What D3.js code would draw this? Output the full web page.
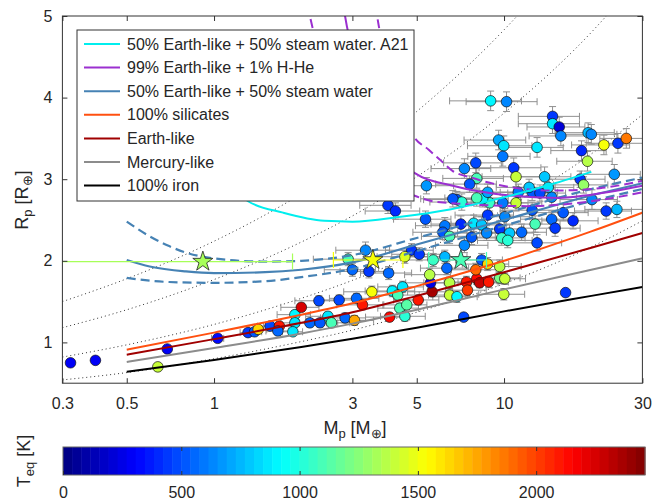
<!DOCTYPE html>
<html>
<head>
<meta charset="utf-8">
<script src="https://cdn.jsdelivr.net/npm/d3@7"></script>
<style>
  body { margin: 0; background: #fff; }
  svg { display: block; }
  text { font-family: "Liberation Sans", Arial, Helvetica, sans-serif; fill: #262626; }
</style>
</head>
<body>
<svg id="chart" width="668" height="504"></svg>
<script>
// ---------- axis ticks ----------
const massTicks = [0.3, 0.5, 1, 3, 5, 10, 30];
const radiusTicks = [1, 2, 3, 4, 5];
const teqTicks = [0, 500, 1000, 1500, 2000];
const teqMax = 2460;

// ---------- composition models: [mass (M⊕), radius (R⊕)] ----------
const ironCurve     = [[0.5,0.64],[1,0.785],[2,0.945],[3,1.045],[5,1.18],[10,1.38],[20,1.57],[30,1.68]];
const mercuryCurve  = [[0.5,0.76],[1,0.93],[2,1.11],[3,1.23],[5,1.40],[10,1.65],[20,1.89],[30,2.03]];
const earthCurve    = [[0.5,0.85],[1,1.04],[2,1.24],[3,1.37],[5,1.57],[10,1.86],[20,2.16],[30,2.34]];
const silicateCurve = [[0.5,0.91],[1,1.12],[2,1.34],[3,1.48],[5,1.69],[10,2.00],[20,2.36],[30,2.59]];
const steamCurve    = [[0.5,2.01],[0.6,1.93],[0.8,1.87],[1,1.85],[1.5,1.86],[2,1.89],[3,1.98],[5,2.20],[10,2.50],[20,2.80],[30,2.95]];
const steamUpper    = [[0.5,2.48],[0.6,2.30],[0.7,2.18],[0.8,2.10],[1,2.03],[1.5,1.99],[2,2.00],[3,2.07],[5,2.28],[10,2.58],[20,2.88],[30,3.02]];
const steamLower    = [[0.5,1.79],[0.7,1.74],[1,1.73],[1.5,1.75],[2,1.80],[3,1.90],[5,2.12],[10,2.43],[20,2.73],[30,2.88]];
const steamA21      = [[1.1,2.95],[1.31,2.73],[1.73,2.59],[2.4,2.49],[3,2.48],[4.4,2.54],[6.5,2.63],[9.3,2.75],[14,2.92],[20,3.09]];
const hheCurve      = [[2.75,5.3],[2.83,5.0],[3.1,4.4],[3.6,3.75],[4.2,3.35],[4.89,3.08],[6.66,2.92],[10.5,2.80],[15.5,2.77],[19,2.80],[30,2.92]];
const hheUpper      = [[3.55,5.3],[3.65,5.0],[3.9,4.5],[4.3,3.95],[4.89,3.52],[5.5,3.36],[6.0,3.24],[6.66,3.10],[7.7,3.02],[9.9,2.92],[14.7,2.86],[21.4,2.89],[30,2.98]];
const hheLower      = [[2.05,5.3],[2.14,5.0],[2.4,4.3],[3.0,3.5],[4.0,2.95],[4.89,2.80],[5.9,2.72],[12,2.67],[21,2.74],[30,2.84]];

// ---------- iso-density guides ----------
const isoDensityA = [[0.3,1.50],[0.5,1.78],[1,2.24],[2,2.82],[3,3.23],[5,3.83],[10,4.83],[12,5.13]];
const isoDensityB = [[0.3,1.18],[0.5,1.40],[1,1.77],[2,2.23],[3,2.55],[5,3.03],[10,3.81],[20,4.80],[25,5.18]];
const isoDensityC = [[0.3,0.82],[0.5,0.97],[1,1.22],[2,1.54],[3,1.76],[5,2.09],[10,2.63],[20,3.31],[30,3.79]];
const isoDensityD = [[0.3,0.54],[0.5,0.63],[1,0.80],[2,1.01],[3,1.15],[5,1.37],[10,1.72],[20,2.17],[30,2.49]];

// ---------- planets: [mass, radius, Teq (K), mass error, radius error] ----------
const planets = [
  [0.32,0.75,280,0,0],[0.39,0.78,280,0,0],[0.64,0.70,1400,0,0],[0.69,0.92,300,0,0],
  [1.03,1.05,340,0.05,0.02],[1.31,1.12,440,0.08,0.03],[1.38,1.13,500,0.08,0.03],[1.42,1.16,1650,0.1,0.04],
  [1.56,1.20,470,0.15,0.05],[1.68,1.20,2100,0.2,0.05],[1.66,1.14,550,0.15,0.04],[1.90,1.34,900,0.25,0.05],
  [1.90,1.24,850,0.2,0.05],[1.87,1.13,880,0.15,0.04],[2.00,1.43,2250,0.3,0.05],[2.14,1.24,560,0.3,0.05],
  [2.32,1.24,520,0.35,0.05],[2.30,1.51,480,0.4,0.06],[2.70,1.52,470,0.45,0.06],[2.47,1.32,850,0.4,0.05],
  [2.54,1.24,1100,0.4,0.06],[3.10,1.54,550,0.6,0.06],[3.50,1.62,1500,0.7,0.07],[3.25,1.46,2100,0.6,0.06],
  [2.83,1.30,560,0.5,0.06],[3.05,1.27,1750,0.5,0.06],[4.03,1.31,2150,0.7,0.05],[4.12,1.63,900,0.8,0.07],
  [4.47,1.68,870,0.8,0.07],[4.30,1.58,1100,0.8,0.07],[4.37,1.42,1080,0.7,0.06],[4.55,1.32,1020,0.8,0.06],
  [4.62,1.46,1120,0.8,0.06],[5.06,1.52,2100,0.9,0.06],[5.65,1.62,2350,1.0,0.06],[6.49,1.73,1350,1.2,0.07],
  [6.49,1.58,1400,1.0,0.06],[6.88,1.56,900,1.2,0.07],[7.42,1.74,2100,1.2,0.07],[7.48,1.64,2000,1.2,0.06],
  [8.05,1.78,2150,1.4,0.07],[8.24,1.73,2300,1.3,0.06],[7.99,1.89,1900,1.4,0.08],[8.37,2.01,500,1.5,0.08],
  [8.78,1.96,1650,1.6,0.08],[8.85,1.74,2100,1.5,0.07],[9.66,1.93,1350,1.8,0.08],[9.66,1.79,1200,1.7,0.07],
  [10.06,1.78,1400,1.8,0.07],[9.98,1.59,1400,1.8,0.07],[16.3,1.61,460,0,0],[7.26,1.31,480,0,0],
  [5.58,1.73,250,1.0,0.07],[5.54,1.83,1350,1.0,0.08],[5.70,2.01,1050,1.1,0.08],[6.25,2.05,750,1.2,0.08],
  [6.35,1.91,550,1.2,0.08],[4.80,2.13,460,0.9,0.08],[5.10,2.08,440,1.0,0.08],[4.55,2.05,1450,0.9,0.08],
  [4.00,1.85,550,0.8,0.08],[3.42,1.87,440,0.7,0.08],[3.00,1.89,550,0.6,0.08],[2.90,2.02,1100,0.7,0.08],
  [3.33,2.13,650,0.7,0.1],[3.98,2.68,460,0.8,0.1],[4.22,2.61,420,0.9,0.1],[5.36,2.51,500,1.2,0.1],
  [6.25,2.43,600,1.3,0.1],[6.15,2.35,520,1.3,0.09],[7.10,2.45,420,1.5,0.1],[6.49,2.30,1100,1.3,0.09],
  [7.73,2.29,500,1.6,0.09],[7.86,2.46,850,1.7,0.1],[8.37,2.44,800,1.8,0.1],[8.71,2.34,650,1.8,0.09],
  [7.30,2.19,650,1.5,0.09],[6.88,2.75,500,1.6,0.1],[7.15,2.72,1000,1.6,0.1],[8.78,2.56,460,2.0,0.1],
  [10.06,2.54,650,2.2,0.1],[10.45,2.34,800,2.2,0.1],[9.66,2.39,460,2.0,0.1],[9.82,2.28,1050,2.0,0.09],
  [10.3,2.25,1000,2.2,0.09],[11.5,2.35,550,2.5,0.1],[13.0,2.22,470,2.8,0.1],[12.5,2.62,500,2.8,0.1],
  [12.8,2.45,1100,2.8,0.1],[14.6,2.51,550,3.2,0.1],[15.0,2.40,460,3.3,0.1],[16.0,2.59,500,3.5,0.1],
  [17.3,2.49,420,3.8,0.1],[20.1,2.75,650,4.5,0.12],[22.5,2.61,460,5,0.1],[24.5,2.63,750,5.5,0.1],
  [11.0,2.71,1400,2.5,0.1],[14.6,2.78,650,3.2,0.1],[8.92,2.71,1050,2,0.1],[9.90,2.71,600,2.2,0.1],
  [8.44,2.76,900,1.9,0.1],[8.05,2.77,1100,1.8,0.1],[6.66,2.76,500,1.5,0.1],[8.99,3.96,900,2.5,0.12],
  [10.2,3.95,650,2.8,0.12],[14.7,3.77,460,3.5,0.12],[14.7,3.68,850,3.5,0.12],[15.5,3.64,200,3.5,0.12],
  [15.7,3.53,650,3.5,0.12],[9.58,3.48,700,2.3,0.12],[9.98,3.41,850,2.5,0.12],[9.90,3.28,600,2.4,0.12],
  [13.0,3.39,850,3.0,0.12],[10.8,3.14,440,2.6,0.12],[11.0,3.03,1400,2.6,0.12],[13.8,3.03,800,3.2,0.12],
  [14.2,2.90,850,3.2,0.1],[11.2,2.84,600,2.6,0.1],[12.5,2.84,500,2.8,0.1],[13.3,2.83,470,3.0,0.1],
  [18.5,3.35,420,4,0.12],[19.4,3.22,1350,4.2,0.12],[18.3,3.00,460,4,0.1],[18.8,2.93,1300,4,0.1],
  [19.5,3.57,750,4.5,0.12],[20.0,3.55,650,4.5,0.12],[22.1,3.42,1500,5,0.12],[24.7,3.44,460,5.5,0.12],
  [26.4,3.50,1850,5,0.12],[24.0,3.06,680,5.5,0.12],[7.99,3.20,470,1.8,0.12],[7.30,3.13,650,1.7,0.12],
  [8.05,3.01,1100,1.9,0.12],[7.61,2.94,520,1.8,0.1],[5.40,2.92,680,1.3,0.1],[12.2,2.90,800,2.8,0.1],
  [8.78,2.84,700,2.0,0.1]
];

// highlighted planets (stars): [mass, radius, Teq, mass error, radius error]
const highlighted = [
  [0.915,1.99,1330,0.95,0.03],
  [3.53,2.01,1500,0.95,0.05],
  [7.10,2.01,1100,1.60,0.04]
];

// ---------- legend ----------
const legendLabels = [
  "50% Earth-like + 50% steam water. A21",
  "99% Earth-like + 1% H-He",
  "50% Earth-like + 50% steam water",
  "100% silicates",
  "Earth-like",
  "Mercury-like",
  "100% iron"
];
const legendColors = ["#00eeee", "#9b30d0", "#4682b4", "#ff5010", "#a00000", "#8c8c8c", "#000000"];

// ---------- layout ----------
const svg = d3.select("#chart");
const pLeft = 62.4, pRight = 642.4, pTop = 16, pBottom = 383.2;

const x = d3.scaleLog().domain([0.3, 30]).range([pLeft, pRight]);
const y = d3.scaleLinear().domain([0.5, 5]).range([pBottom, pTop]);

// jet colour map with 64 discrete levels
function jet(t) {
  const c = v => Math.max(0, Math.min(1, v));
  const r = c(1.5 - Math.abs(4 * t - 3));
  const g = c(1.5 - Math.abs(4 * t - 2));
  const b = c(1.5 - Math.abs(4 * t - 1));
  return d3.rgb(r * 255, g * 255, b * 255).formatHex();
}
const nLevels = 64;
const teqColor = T => {
  const idx = Math.max(0, Math.min(nLevels - 1, Math.floor(T / teqMax * nLevels)));
  return jet((idx + 0.5) / nLevels);
};

svg.append("defs").append("clipPath").attr("id", "plotClip")
  .append("rect").attr("x", pLeft).attr("y", pTop)
  .attr("width", pRight - pLeft).attr("height", pBottom - pTop);

const gPlot = svg.append("g").attr("clip-path", "url(#plotClip)");

const line = d3.line()
  .x(d => x(d[0])).y(d => y(d[1]))
  .curve(d3.curveMonotoneX);

// iso-density guides
[isoDensityA, isoDensityB, isoDensityC, isoDensityD].forEach(c => {
  gPlot.append("path").datum(c).attr("d", line)
    .attr("fill", "none").attr("stroke", "#333").attr("stroke-width", 1)
    .attr("stroke-dasharray", "1,3");
});

// error bars
const errColor = "#909090";
const cap = 3.5;
const gErr = gPlot.append("g").attr("stroke", errColor).attr("stroke-width", 1).attr("fill", "none");
planets.filter(p => p[3] > 0 || p[4] > 0).forEach(p => {
  const [m, r, , dm, dr] = p;
  const cx = x(m), cy = y(r);
  const x0 = x(Math.max(m - dm, 0.05)), x1 = x(m + dm);
  const y0 = y(r - dr), y1 = y(r + dr);
  gErr.append("line").attr("x1", x0).attr("x2", x1).attr("y1", cy).attr("y2", cy);
  gErr.append("line").attr("x1", x0).attr("x2", x0).attr("y1", cy - cap).attr("y2", cy + cap);
  gErr.append("line").attr("x1", x1).attr("x2", x1).attr("y1", cy - cap).attr("y2", cy + cap);
  gErr.append("line").attr("x1", cx).attr("x2", cx).attr("y1", y0).attr("y2", y1);
  gErr.append("line").attr("x1", cx - cap).attr("x2", cx + cap).attr("y1", y0).attr("y2", y0);
  gErr.append("line").attr("x1", cx - cap).attr("x2", cx + cap).attr("y1", y1).attr("y2", y1);
});

// planets
gPlot.append("g").selectAll("circle").data(planets).join("circle")
  .attr("cx", d => x(d[0])).attr("cy", d => y(d[1])).attr("r", 5.3)
  .attr("fill", d => teqColor(d[2]))
  .attr("stroke", "#111").attr("stroke-width", 0.7);

// composition models
function model(data, color, width, dash) {
  gPlot.append("path").datum(data).attr("d", line)
    .attr("fill", "none").attr("stroke", color).attr("stroke-width", width)
    .attr("stroke-dasharray", dash || null);
}
model(ironCurve, legendColors[6], 2);
model(mercuryCurve, legendColors[5], 2);
model(earthCurve, legendColors[4], 2);
model(silicateCurve, legendColors[3], 2);
model(steamUpper, legendColors[2], 2.2, "9,5");
model(steamLower, legendColors[2], 2.2, "9,5");
model(steamCurve, legendColors[2], 2.2);
model(hheUpper, legendColors[1], 2, "9,5");
model(hheLower, legendColors[1], 2, "9,5");
model(hheCurve, legendColors[1], 2);
model(steamA21, legendColors[0], 2);

// highlighted planets with coloured error bars
const starCap = 8;
highlighted.forEach(p => {
  const [m, r, T, dm, dr] = p;
  const col = teqColor(T);
  const g = gPlot.append("g").attr("stroke", col).attr("stroke-width", 1.2);
  const cx = x(m), cy = y(r);
  const x0 = x(Math.max(m - dm, 0.05)), x1 = x(m + dm);
  g.append("line").attr("x1", x0).attr("x2", x1).attr("y1", cy).attr("y2", cy);
  g.append("line").attr("x1", x0).attr("x2", x0).attr("y1", cy - starCap).attr("y2", cy + starCap);
  g.append("line").attr("x1", x1).attr("x2", x1).attr("y1", cy - starCap).attr("y2", cy + starCap);
  g.append("line").attr("x1", cx).attr("x2", cx).attr("y1", y(r - dr)).attr("y2", y(r + dr));
});
gPlot.append("g").selectAll("path").data(highlighted).join("path")
  .attr("transform", d => `translate(${x(d[0])},${y(d[1])})`)
  .attr("d", d3.symbol(d3.symbolStar, 125))
  .attr("fill", d => teqColor(d[2]))
  .attr("stroke", "#222").attr("stroke-width", 0.8);

// axes (ticks point inward on all four sides)
const tickFmt = d => String(d);
const axB = svg.append("g").attr("transform", `translate(0,${pBottom})`)
  .call(d3.axisBottom(x).tickValues(massTicks).tickFormat(tickFmt).tickSizeInner(-5).tickSizeOuter(0).tickPadding(14));
const axT = svg.append("g").attr("transform", `translate(0,${pTop})`)
  .call(d3.axisTop(x).tickValues(massTicks).tickFormat("").tickSizeInner(-5).tickSizeOuter(0));
const axL = svg.append("g").attr("transform", `translate(${pLeft},0)`)
  .call(d3.axisLeft(y).tickValues(radiusTicks).tickFormat(tickFmt).tickSizeInner(-5).tickSizeOuter(0).tickPadding(10));
const axR = svg.append("g").attr("transform", `translate(${pRight},0)`)
  .call(d3.axisRight(y).tickValues(radiusTicks).tickFormat("").tickSizeInner(-5).tickSizeOuter(0));
[axB, axT, axL, axR].forEach(a => {
  a.select(".domain").remove();
  a.selectAll(".tick line").attr("stroke", "#333");
  a.selectAll(".tick text").attr("font-size", 16).attr("fill", "#262626")
    .attr("font-family", "'Liberation Sans', Arial, sans-serif");
});
svg.append("rect").attr("x", pLeft).attr("y", pTop)
  .attr("width", pRight - pLeft).attr("height", pBottom - pTop)
  .attr("fill", "none").attr("stroke", "#333").attr("stroke-width", 1);

// axis titles
const yTitle = svg.append("text").attr("transform", "translate(28,200) rotate(-90)")
  .attr("text-anchor", "middle").attr("font-size", 18);
yTitle.append("tspan").text("R");
yTitle.append("tspan").attr("font-size", 13).attr("dy", 4).text("p");
yTitle.append("tspan").attr("dy", -4).text(" [R");
yTitle.append("tspan").attr("font-size", 13).attr("dy", 4).text("⊕");
yTitle.append("tspan").attr("dy", -4).text("]");

const xTitle = svg.append("text").attr("x", 355).attr("y", 434)
  .attr("text-anchor", "middle").attr("font-size", 18);
xTitle.append("tspan").text("M");
xTitle.append("tspan").attr("font-size", 13).attr("dy", 4).text("p");
xTitle.append("tspan").attr("dy", -4).text(" [M");
xTitle.append("tspan").attr("font-size", 13).attr("dy", 4).text("⊕");
xTitle.append("tspan").attr("dy", -4).text("]");

// legend
const lg = svg.append("g");
lg.append("rect").attr("x", 77).attr("y", 30).attr("width", 337).attr("height", 171)
  .attr("fill", "#fff").attr("stroke", "#333").attr("stroke-width", 1);
legendLabels.forEach((lab, i) => {
  const ly = 44 + i * 23.6;
  lg.append("line").attr("x1", 84).attr("x2", 120).attr("y1", ly).attr("y2", ly)
    .attr("stroke", legendColors[i]).attr("stroke-width", 2);
  lg.append("text").attr("x", 127).attr("y", ly + 5.5).attr("font-size", 16).text(lab);
});

// colour bar
const cbLeft = 63, cbRight = 645, cbTop = 447, cbBottom = 475;
const cbx = d3.scaleLinear().domain([0, teqMax]).range([cbLeft, cbRight]);
const levels = d3.range(nLevels);
svg.append("g").selectAll("rect").data(levels).join("rect")
  .attr("x", i => cbx(i * teqMax / nLevels))
  .attr("width", i => cbx((i + 1) * teqMax / nLevels) - cbx(i * teqMax / nLevels) + 0.5)
  .attr("y", cbTop).attr("height", cbBottom - cbTop)
  .attr("fill", i => jet((i + 0.5) / nLevels));
svg.append("rect").attr("x", cbLeft).attr("y", cbTop)
  .attr("width", cbRight - cbLeft).attr("height", cbBottom - cbTop)
  .attr("fill", "none").attr("stroke", "#666").attr("stroke-width", 1);
const cbAxis = svg.append("g").attr("transform", `translate(0,${cbBottom})`)
  .call(d3.axisBottom(cbx).tickValues(teqTicks).tickFormat(d => String(d)).tickSizeInner(-4).tickSizeOuter(0).tickPadding(12));
cbAxis.select(".domain").remove();
cbAxis.selectAll(".tick line").attr("stroke", "#333");
cbAxis.selectAll(".tick text").attr("font-size", 16).attr("fill", "#262626")
  .attr("font-family", "'Liberation Sans', Arial, sans-serif");
const cbTopAxis = svg.append("g").attr("transform", `translate(0,${cbTop})`)
  .call(d3.axisTop(cbx).tickValues(teqTicks.filter(t => t > 0)).tickFormat("").tickSizeInner(-4).tickSizeOuter(0));
cbTopAxis.select(".domain").remove();
cbTopAxis.selectAll(".tick line").attr("stroke", "#333");

const cTitle = svg.append("text").attr("transform", "translate(30,461) rotate(-90)")
  .attr("text-anchor", "middle").attr("font-size", 18);
cTitle.append("tspan").text("T");
cTitle.append("tspan").attr("font-size", 13).attr("dy", 4).text("eq");
cTitle.append("tspan").attr("dy", -4).text(" [K]");
</script>
</body>
</html>
